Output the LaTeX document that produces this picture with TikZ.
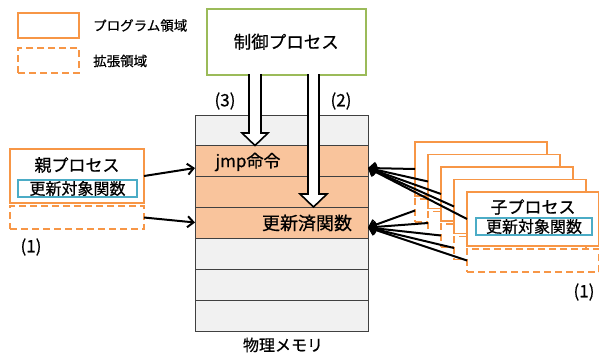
\documentclass[tikz,border=0pt]{standalone}
\usepackage{fontspec}
\setmainfont{Noto Sans CJK JP}[FakeBold=0.6]
\usetikzlibrary{arrows.meta,calc}
\definecolor{org}{HTML}{F79646}
\definecolor{orgfill}{HTML}{F9C49C}
\definecolor{grayfill}{HTML}{F1F1F1}
\definecolor{grn}{HTML}{9BBB59}
\definecolor{blu}{HTML}{4BACC6}
\tikzset{
  fs/.style={font=\fontsize{#1}{#1}\selectfont},
  progbox/.style={draw=org, line width=1.8pt, fill=white, rectangle, inner sep=0pt, outer sep=0pt, anchor=north west, minimum width=#1, minimum height=54pt},
  extbox/.style={draw=org, line width=1.8pt, dash pattern=on 7pt off 4pt, fill=white, rectangle, inner sep=0pt, outer sep=0pt, anchor=north west, minimum width=#1, minimum height=23pt},
  fnbox/.style={draw=blu, line width=1.5pt, fill=white, rectangle, inner sep=0pt, minimum width=119pt, minimum height=17pt, fs=16},
  memrow/.style={draw=black!75, line width=0.8pt, rectangle, inner sep=0pt, outer sep=0pt, anchor=north west, minimum width=173pt, minimum height=30.86pt, fill=#1},
  arr/.style={line width=2pt, -{Straight Barb[length=6pt,width=11pt,line width=2pt]}},
  hollow/.style={draw=black, line width=1.6pt, fill=white, line join=miter},
  lbl/.style={inner sep=0pt, fs=17},
}
\begin{document}
\begin{tikzpicture}[x=1pt,y=-1pt]
\useasboundingbox (0,0) rectangle (599,356);
% legend
\node[progbox=61pt, minimum height=25pt] (lg1) at (18,13) {};
\node[extbox=61pt, minimum height=25pt] (lg2) at (18,48) {};
\node[anchor=west, inner sep=0pt, fs=13.5] (lt1) at (93,25.5) {プログラム領域};
\node[anchor=west, inner sep=0pt, fs=13.5] (lt2) at (93,61) {拡張領域};
% control process
\node[draw=grn, line width=1.5pt, rectangle, anchor=north west, minimum width=159pt, minimum height=66pt, inner sep=0pt, fs=17.5] (ctrl) at (206,8) {制御プロセス};
% memory
\node[memrow=grayfill] (r1) at (195,115) {};
\node[memrow=orgfill] (r2) at (195,145.86) {};
\node[memrow=orgfill] (r3) at (195,176.71) {};
\node[memrow=orgfill] (r4) at (195,207.57) {};
\node[memrow=grayfill] (r5) at (195,238.43) {};
\node[memrow=grayfill] (r6) at (195,269.29) {};
\node[memrow=grayfill] (r7) at (195,300.14) {};
\node[lbl, fs=17] (jmp) at (248,162) {jmp命令};
\node[lbl, fs=18] (upd) at (307,223) {更新済関数};
\node[lbl, fs=16] (memlbl) at (283,345) {物理メモリ};
% hollow arrows
\draw[hollow] (249,74) -- (249,133) -- (242,133) -- (255,145.5) -- (268,133) -- (261,133) -- (261,74);
\draw[hollow] (308,74) -- (308,194) -- (300,194) -- (313.5,207) -- (327,194) -- (319,194) -- (319,74);
\node[lbl] (l3) at (225,101) {(3)};
\node[lbl] (l2) at (341,101) {(2)};
% parent process
\node[progbox=134pt] (par) at (10,149) {};
\node[extbox=134pt] (parx) at (10,206) {};
\node[lbl, fs=17] (partxt) at (77,165) {親プロセス};
\node[fnbox] (parfn) at (77.5,188.5) {更新対象関数};
\node[lbl] (l1a) at (31,247) {(1)};
\coordinate (tl1) at (195,168);
\coordinate (tl2) at (195,222.5);
\draw[arr] (par.east) -- (tl1);
\draw[arr] (parx.east) -- (tl2);
% child processes
\foreach \j/\xx/\yy in {1/415/142,2/428/154.5,3/441/167,4/454/179.5,5/467/192}{
  \node[progbox=132pt] (c\j) at (\xx,\yy) {};
  \node[extbox=132pt] (cx\j) at (\xx,\yy+57) {};
}
\node[lbl, fs=17] (chtxt) at (533,207) {子プロセス};
\node[fnbox, minimum width=116pt] (chfn) at (534,226.5) {更新対象関数};
\node[lbl] (l1b) at (584,292) {(1)};
\coordinate (tr1) at (368,168);
\coordinate (tr2) at (368,227.5);
\foreach \j in {1,...,5}{
  \draw[arr] (c\j.west) -- (tr1);
  \draw[arr] (cx\j.west) -- (tr2);
}
\end{tikzpicture}
\end{document}
